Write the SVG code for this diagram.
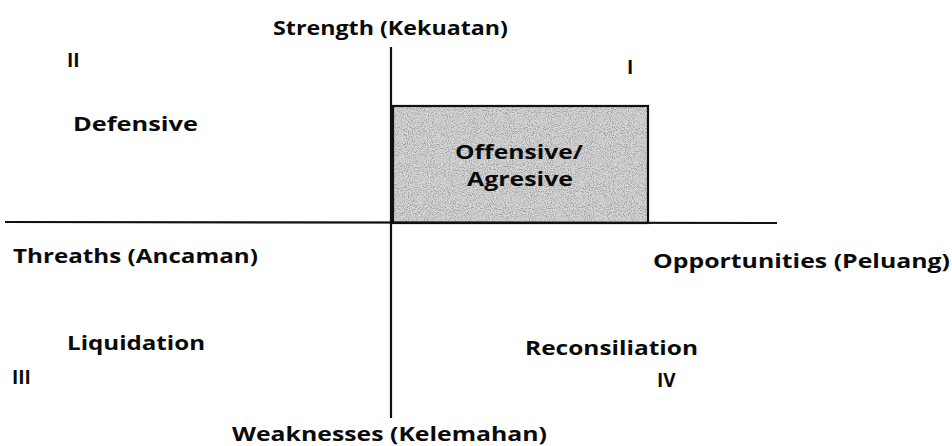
<svg xmlns="http://www.w3.org/2000/svg" width="952" height="446" viewBox="0 0 952 446">
<style>
.t{font-family:"Open Sans","Noto Sans","Liberation Sans",sans-serif;font-weight:bold;font-size:19px;fill:#0a0a0a}
.ax{stroke:#111;stroke-width:2.2;fill:none}
</style>
<defs>
<filter id="noise" x="0" y="0" width="100%" height="100%">
<feTurbulence type="fractalNoise" baseFrequency="0.95" numOctaves="2" seed="5" result="n"/>
<feColorMatrix in="n" type="matrix" values="0 0 0 0 0.35  0 0 0 0 0.35  0 0 0 0 0.35  3.2 0 0 0 -1.35" result="g"/>
<feComposite in="g" in2="SourceGraphic" operator="in" result="gi"/>
<feMerge><feMergeNode in="SourceGraphic"/><feMergeNode in="gi"/></feMerge>
</filter>
</defs>
<rect width="952" height="446" fill="#fff"/>
<g id="box">
<rect x="393" y="106" width="255" height="117" fill="#d6d6d6" filter="url(#noise)"/>
<rect x="393" y="106" width="255" height="117" fill="none" stroke="#111" stroke-width="2.2"/>
<text class="t" x="455" y="159" textLength="128" lengthAdjust="spacingAndGlyphs">Offensive/</text>
<text class="t" x="467" y="186" textLength="106" lengthAdjust="spacingAndGlyphs">Agresive</text>
</g>
<g id="axes">
<line class="ax" x1="391" y1="47" x2="391" y2="418"/>
<line class="ax" x1="5" y1="222" x2="777" y2="223"/>
</g>
<g id="labels">
<text class="t" x="273" y="35" textLength="235" lengthAdjust="spacingAndGlyphs">Strength (Kekuatan)</text>
<text class="t" x="67" y="67">II</text>
<text class="t" x="627" y="74">I</text>
<text class="t" x="73" y="131" textLength="125" lengthAdjust="spacingAndGlyphs">Defensive</text>
<text class="t" x="13" y="263" textLength="245" lengthAdjust="spacingAndGlyphs">Threaths (Ancaman)</text>
<text class="t" x="653" y="268" textLength="297" lengthAdjust="spacingAndGlyphs">Opportunities (Peluang)</text>
<text class="t" x="67" y="350" textLength="138" lengthAdjust="spacingAndGlyphs">Liquidation</text>
<text class="t" x="525" y="355" textLength="173" lengthAdjust="spacingAndGlyphs">Reconsiliation</text>
<text class="t" x="12" y="384">III</text>
<text class="t" x="657" y="387">IV</text>
<text class="t" x="232" y="441" textLength="315" lengthAdjust="spacingAndGlyphs">Weaknesses (Kelemahan)</text>
</g>
</svg>
